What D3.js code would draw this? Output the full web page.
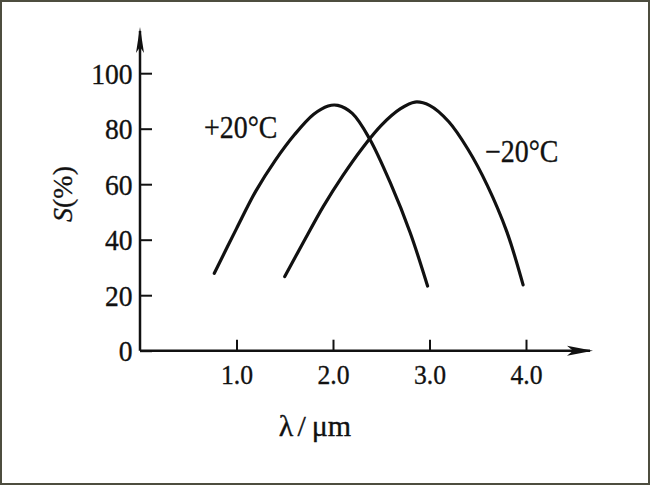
<!DOCTYPE html>
<html>
<head>
<meta charset="utf-8">
<script src="https://cdn.jsdelivr.net/npm/d3@7"></script>
<style>
  body { margin: 0; background: #fff; }
  svg text { font-family: "Liberation Serif", "Times New Roman", serif; fill: #111; stroke: #111; stroke-width: 0.35px; }
</style>
</head>
<body>
<div id="chart"></div>
<script>
// values (lambda in um, S in %)
var warmX = [0.77, 1.0, 1.2, 1.4, 1.6, 1.8, 1.95, 2.05, 2.2, 2.38, 2.6, 2.8, 2.98];
var warmS = [27.9, 44, 57.5, 68.5, 77.8, 85.2, 88.2, 88.4, 85.5, 76.3, 60, 42.5, 23.3];
var coldX = [1.5, 1.7, 1.9, 2.1, 2.3, 2.5, 2.7, 2.85, 3.0, 3.2, 3.4, 3.6, 3.8, 3.97];
var coldS = [26.7, 39.5, 52, 63, 72.8, 81.2, 87.2, 89.6, 88.4, 82.5, 72.5, 59.5, 43, 23.7];
var xTicks = [1.0, 2.0, 3.0, 4.0];
var yTicks = [0, 20, 40, 60, 80, 100];
var labels = ["+20\u00b0C", "\u221220\u00b0C"];

var W = 650, H = 485;
var svg = d3.select("#chart").append("svg")
    .attr("width", W).attr("height", H);

// frame
svg.append("rect")
    .attr("x", 1).attr("y", 1)
    .attr("width", W - 2).attr("height", H - 2)
    .attr("fill", "#fff")
    .attr("stroke", "#4d4d3f")
    .attr("stroke-width", 2);

var x = d3.scaleLinear().domain([0, 4]).range([140, 526]);
var y = d3.scaleLinear().domain([0, 100]).range([350.7, 73.2]);

// axes
var gx = svg.append("g")
    .attr("transform", "translate(0," + y(0) + ")")
    .call(d3.axisBottom(x).tickValues(xTicks).tickFormat(d3.format(".1f"))
        .tickSize(-11).tickPadding(9));
gx.select(".domain").remove();
gx.selectAll(".tick line").attr("stroke", "#111").attr("stroke-width", 2);
gx.selectAll(".tick text").attr("font-size", 27).attr("dy", "0.9em")
    .attr("transform", "scale(0.95,1)");

var gy = svg.append("g")
    .attr("transform", "translate(" + x(0) + ",0)")
    .call(d3.axisLeft(y).tickValues(yTicks).tickSize(-12).tickPadding(8));
gy.select(".domain").remove();
gy.selectAll(".tick line").attr("stroke", "#111").attr("stroke-width", 2);
gy.selectAll(".tick text").attr("font-size", 30).attr("dy", "0.34em")
    .attr("transform", "scale(0.92,1)");

// axis lines with arrow heads
svg.append("line")
    .attr("x1", x(0)).attr("y1", y(0)).attr("x2", 590).attr("y2", y(0))
    .attr("stroke", "#111").attr("stroke-width", 2.5);
svg.append("line")
    .attr("x1", x(0)).attr("y1", y(0)).attr("x2", x(0)).attr("y2", 31)
    .attr("stroke", "#111").attr("stroke-width", 2.5);
svg.append("path")
    .attr("d", "M593," + y(0) + " L567," + (y(0) - 5) + " L573," + y(0) + " L567," + (y(0) + 5) + "Z")
    .attr("fill", "#111");
svg.append("path")
    .attr("d", "M" + x(0) + ",27 L" + (x(0) - 4) + ",53 L" + x(0) + ",47 L" + (x(0) + 4) + ",53Z")
    .attr("fill", "#111");

// curves
var line = d3.line()
    .x(d => x(d[0]))
    .y(d => y(d[1]))
    .curve(d3.curveCatmullRom.alpha(0.5));

[[warmX, warmS], [coldX, coldS]].forEach(function (s) {
    svg.append("path")
        .datum(d3.zip(s[0], s[1]))
        .attr("fill", "none")
        .attr("stroke", "#111")
        .attr("stroke-width", 3.2)
        .attr("stroke-linecap", "round")
        .attr("d", line);
});

// curve labels
svg.append("text").attr("transform", "translate(204,138) scale(0.9,1)")
    .attr("font-size", 31).text(labels[0]);
svg.append("text").attr("transform", "translate(485,162) scale(0.9,1)")
    .attr("font-size", 31).text(labels[1]);

// axis titles
var xt = svg.append("text")
    .attr("x", 315).attr("y", 436)
    .attr("text-anchor", "middle")
    .attr("font-size", 30);
xt.append("tspan").text("\u03bb");
xt.append("tspan").attr("dx", 4).text("/");
xt.append("tspan").attr("dx", 6).text("\u03bcm");

var yt = svg.append("text")
    .attr("transform", "translate(72,194) rotate(-90)")
    .attr("text-anchor", "middle")
    .attr("font-size", 28);
yt.append("tspan").attr("font-style", "italic").text("S");
yt.append("tspan").text("(%)");
</script>
</body>
</html>
